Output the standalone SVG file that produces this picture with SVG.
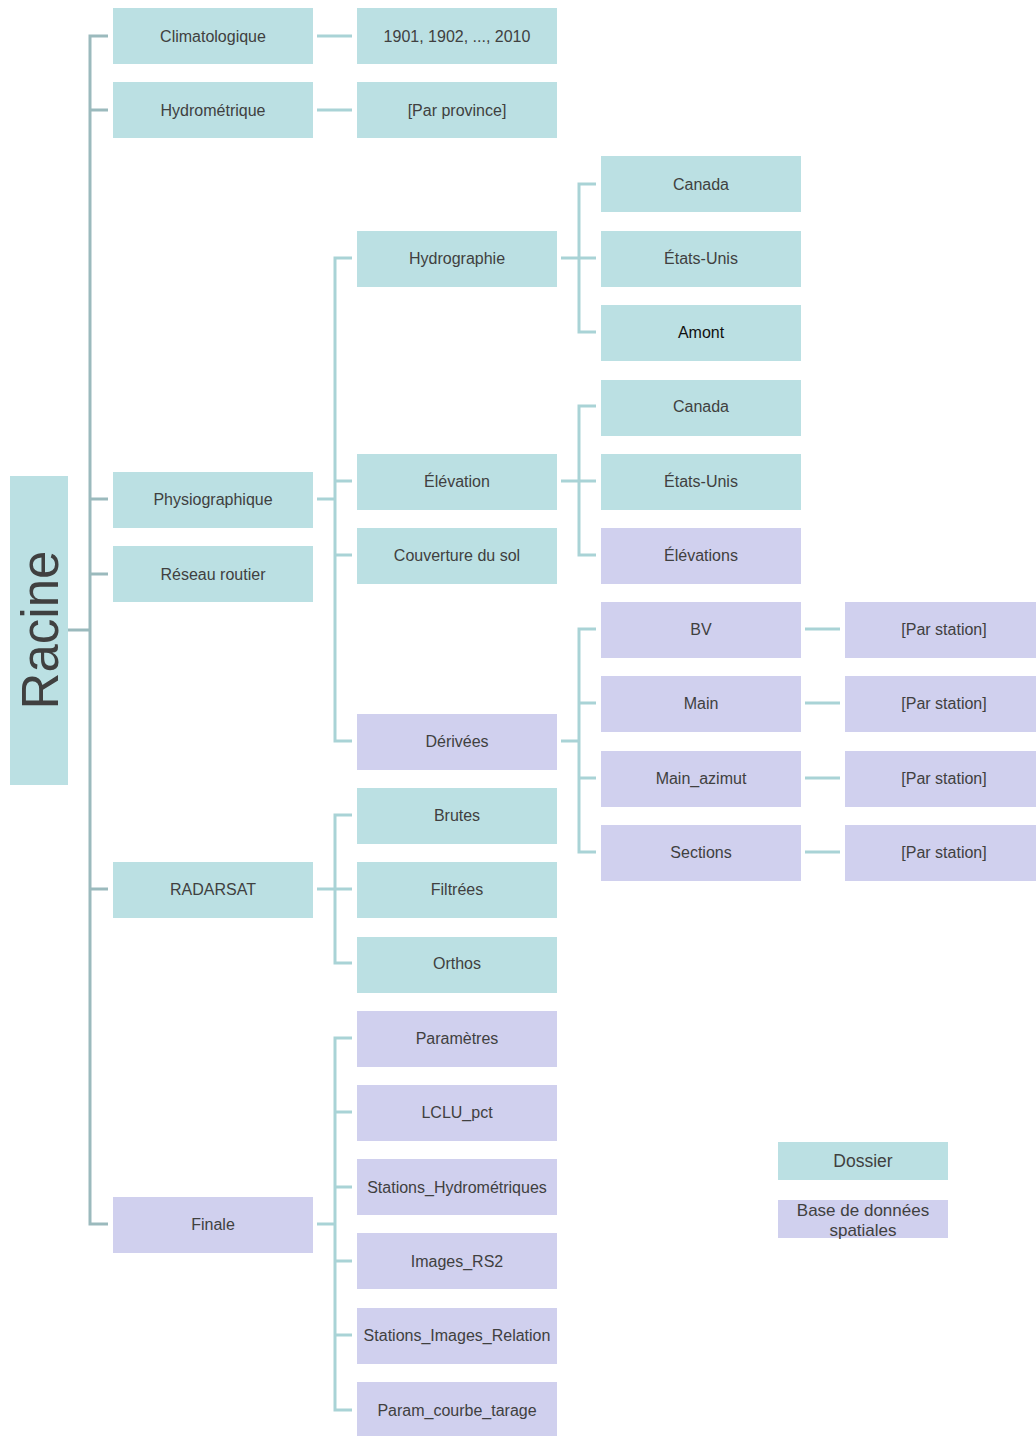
<svg xmlns="http://www.w3.org/2000/svg" width="1036" height="1436" viewBox="0 0 1036 1436">
<style>
.f{fill:#BBE0E3}
.d{fill:#D0D0EE}
text{font-family:"Liberation Sans",Arial,sans-serif;font-size:16px;fill:#404040;text-anchor:middle;dominant-baseline:central}
.c{fill:none;stroke:#A9D3D6;stroke-width:3}
.r{fill:none;stroke:#9BBABD;stroke-width:3}
</style>
<rect width="1036" height="1436" fill="#ffffff"/>
<g id="connectors">
<path class="r" d="M68 630H90M108 36H90V1224H108M90 110H108M90 499H108M90 574H108M90 889H108"/>
<path class="c" d="M317 36H352M317 110H352"/>
<path class="c" d="M317 499H335M352 258H335V741H352M335 481H352M335 555H352"/>
<path class="c" d="M561 258H579M596 184H579V332H596M579 258H596"/>
<path class="c" d="M561 481H579M596 406H579V555H596M579 481H596"/>
<path class="c" d="M561 741H579M596 629H579V852H596M579 703H596M579 778H596"/>
<path class="c" d="M805 629H840M805 703H840M805 778H840M805 852H840"/>
<path class="c" d="M317 889H335M352 815H335V963H352M335 889H352"/>
<path class="c" d="M317 1224H335M352 1038H335V1410H352M335 1112H352M335 1187H352M335 1261H352M335 1335H352"/>
</g>
<g id="racine"><rect class="f" x="10" y="476" width="58" height="309"/><text transform="translate(40 630) rotate(-90)" style="font-size:51px">Racine</text></g>
<g id="climatologique"><rect class="f" x="113" y="8" width="200" height="56"/><text x="213" y="36">Climatologique</text></g>
<g id="hydrometrique"><rect class="f" x="113" y="82" width="200" height="56"/><text x="213" y="110">Hydrométrique</text></g>
<g id="physiographique"><rect class="f" x="113" y="472" width="200" height="56"/><text x="213" y="499">Physiographique</text></g>
<g id="reseau"><rect class="f" x="113" y="546" width="200" height="56"/><text x="213" y="574">Réseau routier</text></g>
<g id="radarsat"><rect class="f" x="113" y="862" width="200" height="56"/><text x="213" y="889">RADARSAT</text></g>
<g id="finale"><rect class="d" x="113" y="1197" width="200" height="56"/><text x="213" y="1224">Finale</text></g>
<g id="annees"><rect class="f" x="357" y="8" width="200" height="56"/><text x="457" y="36">1901, 1902, ..., 2010</text></g>
<g id="province"><rect class="f" x="357" y="82" width="200" height="56"/><text x="457" y="110">[Par province]</text></g>
<g id="hydrographie"><rect class="f" x="357" y="231" width="200" height="56"/><text x="457" y="258">Hydrographie</text></g>
<g id="elevation"><rect class="f" x="357" y="454" width="200" height="56"/><text x="457" y="481">Élévation</text></g>
<g id="couverture"><rect class="f" x="357" y="528" width="200" height="56"/><text x="457" y="555">Couverture du sol</text></g>
<g id="derivees"><rect class="d" x="357" y="714" width="200" height="56"/><text x="457" y="741">Dérivées</text></g>
<g id="brutes"><rect class="f" x="357" y="788" width="200" height="56"/><text x="457" y="815">Brutes</text></g>
<g id="filtrees"><rect class="f" x="357" y="862" width="200" height="56"/><text x="457" y="889">Filtrées</text></g>
<g id="orthos"><rect class="f" x="357" y="937" width="200" height="56"/><text x="457" y="963">Orthos</text></g>
<g id="parametres"><rect class="d" x="357" y="1011" width="200" height="56"/><text x="457" y="1038">Paramètres</text></g>
<g id="lclu"><rect class="d" x="357" y="1085" width="200" height="56"/><text x="457" y="1112">LCLU_pct</text></g>
<g id="stationshydro"><rect class="d" x="357" y="1159" width="200" height="56"/><text x="457" y="1187">Stations_Hydrométriques</text></g>
<g id="images"><rect class="d" x="357" y="1233" width="200" height="56"/><text x="457" y="1261">Images_RS2</text></g>
<g id="relation"><rect class="d" x="357" y="1308" width="200" height="56"/><text x="457" y="1335">Stations_Images_Relation</text></g>
<g id="courbe"><rect class="d" x="357" y="1382" width="200" height="56"/><text x="457" y="1410">Param_courbe_tarage</text></g>
<g id="canada1"><rect class="f" x="601" y="156" width="200" height="56"/><text x="701" y="184">Canada</text></g>
<g id="etats1"><rect class="f" x="601" y="231" width="200" height="56"/><text x="701" y="258">États-Unis</text></g>
<g id="amont"><rect class="f" x="601" y="305" width="200" height="56"/><text x="701" y="332" style="fill:#111">Amont</text></g>
<g id="canada2"><rect class="f" x="601" y="380" width="200" height="56"/><text x="701" y="406">Canada</text></g>
<g id="etats2"><rect class="f" x="601" y="454" width="200" height="56"/><text x="701" y="481">États-Unis</text></g>
<g id="elevations"><rect class="d" x="601" y="528" width="200" height="56"/><text x="701" y="555">Élévations</text></g>
<g id="bv"><rect class="d" x="601" y="602" width="200" height="56"/><text x="701" y="629">BV</text></g>
<g id="main"><rect class="d" x="601" y="676" width="200" height="56"/><text x="701" y="703">Main</text></g>
<g id="mainazimut"><rect class="d" x="601" y="751" width="200" height="56"/><text x="701" y="778">Main_azimut</text></g>
<g id="sections"><rect class="d" x="601" y="825" width="200" height="56"/><text x="701" y="852">Sections</text></g>
<g id="station1"><rect class="d" x="845" y="602" width="198" height="56"/><text x="944" y="629">[Par station]</text></g>
<g id="station2"><rect class="d" x="845" y="676" width="198" height="56"/><text x="944" y="703">[Par station]</text></g>
<g id="station3"><rect class="d" x="845" y="751" width="198" height="56"/><text x="944" y="778">[Par station]</text></g>
<g id="station4"><rect class="d" x="845" y="825" width="198" height="56"/><text x="944" y="852">[Par station]</text></g>
<g id="legende-dossier"><rect class="f" x="778" y="1142" width="170" height="38"/><text x="863" y="1161" style="font-size:17.5px">Dossier</text></g>
<g id="legende-bd"><rect class="d" x="778" y="1200" width="170" height="38"/><text x="863" y="1210" style="font-size:17px">Base de données</text><text x="863" y="1230" style="font-size:17px">spatiales</text></g>
</svg>
